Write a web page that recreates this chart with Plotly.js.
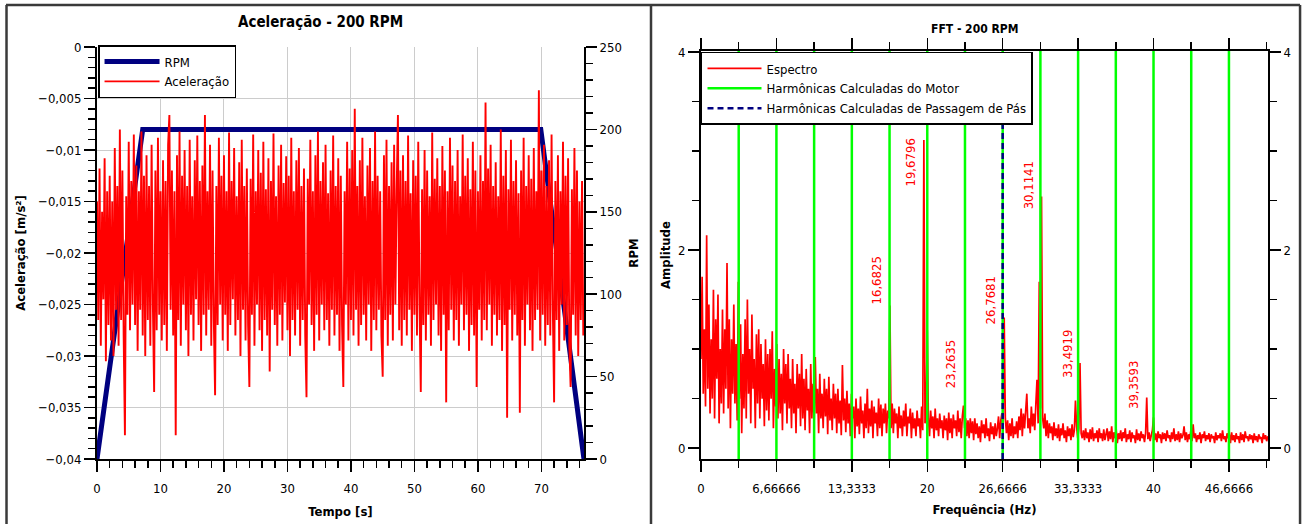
<!DOCTYPE html>
<html><head><meta charset="utf-8">
<script src="https://cdn.plot.ly/plotly-3.0.1.min.js"></script>
<style>html,body{margin:0;padding:0;background:#fff}#chart{width:1302px;height:524px}</style>
</head><body><div id="chart"></div>
<script>
// ---------- Left chart: acceleration (m/s²) sampled every 0.2 s ----------
const timeStep = 0.2;
const accel = [
-0.0150,-0.0265,-0.0118,-0.0290,-0.0160,-0.0245,-0.0108,-0.0305,-0.0140,-0.0270,
-0.0125,-0.0285,-0.0150,-0.0300,-0.0098,-0.0255,-0.0135,-0.0290,-0.0080,-0.0265,
-0.0120,-0.0280,-0.0377,-0.0145,-0.0260,-0.0092,-0.0275,-0.0130,-0.0250,-0.0085,
-0.0270,-0.0115,-0.0295,-0.0140,-0.0255,-0.0082,-0.0280,-0.0125,-0.0300,-0.0105,
-0.0265,-0.0135,-0.0290,-0.0095,-0.0250,-0.0335,-0.0120,-0.0275,-0.0088,-0.0260,
-0.0140,-0.0285,-0.0110,-0.0270,-0.0130,-0.0295,-0.0095,-0.0066,-0.0255,-0.0120,
-0.0280,-0.0140,-0.0377,-0.0105,-0.0265,-0.0082,-0.0290,-0.0125,-0.0250,-0.0100,
-0.0275,-0.0135,-0.0300,-0.0090,-0.0260,-0.0145,-0.0285,-0.0110,-0.0245,-0.0086,
-0.0270,-0.0130,-0.0295,-0.0115,-0.0260,-0.0066,-0.0280,-0.0140,-0.0255,-0.0095,
-0.0290,-0.0120,-0.0265,-0.0338,-0.0135,-0.0270,-0.0088,-0.0250,-0.0125,-0.0285,
-0.0105,-0.0260,-0.0140,-0.0295,-0.0083,-0.0270,-0.0130,-0.0245,-0.0098,-0.0280,
-0.0145,-0.0265,-0.0112,-0.0300,-0.0090,-0.0255,-0.0135,-0.0285,-0.0118,-0.0270,
-0.0330,-0.0128,-0.0260,-0.0085,-0.0290,-0.0140,-0.0250,-0.0100,-0.0275,-0.0122,
-0.0295,-0.0092,-0.0265,-0.0138,-0.0280,-0.0108,-0.0315,-0.0130,-0.0255,-0.0084,
-0.0270,-0.0145,-0.0290,-0.0115,-0.0260,-0.0095,-0.0285,-0.0132,-0.0248,-0.0106,
-0.0275,-0.0125,-0.0300,-0.0088,-0.0265,-0.0140,-0.0280,-0.0110,-0.0255,-0.0098,
-0.0290,-0.0135,-0.0265,-0.0118,-0.0280,-0.0340,-0.0128,-0.0250,-0.0090,-0.0270,
-0.0140,-0.0295,-0.0105,-0.0260,-0.0082,-0.0285,-0.0130,-0.0250,-0.0112,-0.0275,
-0.0095,-0.0265,-0.0142,-0.0290,-0.0120,-0.0255,-0.0086,-0.0280,-0.0135,-0.0260,
-0.0108,-0.0295,-0.0125,-0.0270,-0.0330,-0.0140,-0.0250,-0.0092,-0.0285,-0.0118,
-0.0265,-0.0100,-0.0280,-0.0060,-0.0255,-0.0135,-0.0290,-0.0110,-0.0270,-0.0088,
-0.0260,-0.0145,-0.0285,-0.0115,-0.0250,-0.0098,-0.0295,-0.0130,-0.0265,-0.0082,
-0.0275,-0.0125,-0.0255,-0.0140,-0.0280,-0.0320,-0.0105,-0.0265,-0.0090,-0.0290,
-0.0135,-0.0260,-0.0112,-0.0285,-0.0095,-0.0250,-0.0140,-0.0066,-0.0275,-0.0120,
-0.0290,-0.0105,-0.0265,-0.0130,-0.0280,-0.0086,-0.0255,-0.0142,-0.0295,-0.0110,
-0.0260,-0.0125,-0.0280,-0.0092,-0.0250,-0.0335,-0.0138,-0.0270,-0.0100,-0.0285,
-0.0120,-0.0260,-0.0145,-0.0290,-0.0083,-0.0265,-0.0128,-0.0250,-0.0108,-0.0280,
-0.0135,-0.0295,-0.0096,-0.0260,-0.0120,-0.0345,-0.0140,-0.0275,-0.0088,-0.0255,
-0.0115,-0.0285,-0.0130,-0.0265,-0.0100,-0.0290,-0.0145,-0.0250,-0.0085,-0.0275,
-0.0125,-0.0260,-0.0108,-0.0295,-0.0138,-0.0270,-0.0092,-0.0280,-0.0120,-0.0330,
-0.0140,-0.0255,-0.0105,-0.0285,-0.0130,-0.0265,-0.0054,-0.0275,-0.0118,-0.0250,
-0.0095,-0.0290,-0.0135,-0.0260,-0.0112,-0.0280,-0.0145,-0.0265,-0.0080,-0.0295,
-0.0125,-0.0270,-0.0100,-0.0360,-0.0138,-0.0255,-0.0090,-0.0285,-0.0130,-0.0260,
-0.0110,-0.0280,-0.0142,-0.0355,-0.0120,-0.0265,-0.0088,-0.0290,-0.0135,-0.0250,
-0.0105,-0.0275,-0.0128,-0.0295,-0.0098,-0.0265,-0.0140,-0.0255,-0.0042,-0.0285,
-0.0120,-0.0260,-0.0095,-0.0290,-0.0135,-0.0270,-0.0110,-0.0280,-0.0085,-0.0255,
-0.0345,-0.0130,-0.0265,-0.0105,-0.0295,-0.0140,-0.0250,-0.0092,-0.0285,-0.0125,
-0.0270,-0.0108,-0.0290,-0.0330,-0.0138,-0.0260,-0.0098,-0.0280,-0.0120,-0.0300,
-0.0150,-0.0265,-0.0130,-0.0280
];
const rpmTime = [0, 7.2, 69.9, 76.7];
const rpmValues = [0, 200, 200, 0];

// ---------- Right chart: FFT amplitude sampled every 0.1 Hz ----------
const freqStep = 0.1;
const spectrum = [
0.9,1.73,0.55,1.2,0.42,2.15,0.6,1.45,0.35,1.1,
0.5,1.6,0.3,1.3,0.7,1.55,0.25,1.0,0.45,1.4,
0.35,1.2,0.6,1.87,0.4,1.3,0.2,1.1,0.55,1.45,
0.45,1.05,0.28,1.68,0.5,1.25,0.15,0.95,0.4,1.3,
0.3,1.5,0.55,1.0,0.25,1.35,0.6,0.9,0.2,1.15,
0.45,1.2,0.3,1.05,0.5,0.85,0.22,1.1,0.38,0.95,
0.28,1.0,0.5,1.18,0.2,0.8,0.42,1.05,0.3,0.9,
0.35,0.75,0.18,1.0,0.45,0.85,0.25,0.95,0.4,0.7,
0.2,0.9,0.35,0.65,0.15,0.85,0.4,0.75,0.22,0.95,
0.3,0.7,0.18,0.8,0.38,0.6,0.15,0.85,0.3,0.65,
0.25,0.92,0.35,0.6,0.15,0.75,0.3,0.55,0.2,0.7,
0.32,0.6,0.14,0.72,0.28,0.5,0.18,0.65,0.3,0.55,
0.15,0.6,0.25,0.48,0.13,0.84,0.28,0.5,0.16,0.58,
0.25,0.45,0.12,0.55,0.3,0.42,0.1,0.5,0.22,0.4,
0.14,0.52,0.25,0.38,0.1,0.45,0.2,0.6,0.15,0.4,
0.22,0.48,0.1,0.42,0.25,0.36,0.12,0.5,0.2,0.44,
0.12,0.4,0.25,0.45,0.15,0.38,0.3,1.44,0.2,0.45,
0.15,0.4,0.25,0.35,0.1,0.42,0.2,0.33,0.12,0.38,
0.22,0.45,0.12,0.32,0.25,0.4,0.1,0.36,0.2,0.3,
0.12,0.38,0.22,0.3,0.1,0.42,0.18,3.11,0.25,0.35,
1.19,0.3,0.12,0.38,0.2,0.32,0.1,0.4,0.18,0.3,
0.12,0.35,0.2,0.28,0.1,0.33,0.18,0.3,0.08,0.36,
0.15,0.3,0.1,0.34,0.2,0.28,0.12,0.38,0.16,0.3,
0.1,0.32,0.43,0.2,0.3,0.12,0.28,0.1,0.3,0.15,
0.27,0.08,0.3,0.14,0.25,0.1,0.22,0.06,0.28,0.15,
0.24,0.1,0.3,0.12,0.2,0.07,0.26,0.14,0.22,0.09,
0.25,0.12,0.2,0.32,0.1,0.28,0.35,0.15,1.32,0.3,
0.15,0.28,0.08,0.25,0.12,0.3,0.1,0.22,0.14,0.27,
0.1,0.32,0.18,0.4,0.12,0.35,0.2,0.38,0.55,0.2,
0.3,0.15,0.42,0.22,0.35,0.18,0.45,0.69,0.25,1.68,
0.4,2.54,0.3,0.2,0.35,0.12,0.28,0.1,0.25,0.15,
0.22,0.08,0.26,0.12,0.2,0.1,0.24,0.07,0.2,0.13,
0.25,0.1,0.18,0.06,0.22,0.12,0.2,0.08,0.24,0.11,
0.18,0.48,0.22,0.1,0.2,0.86,0.15,0.1,0.18,0.08,
0.2,0.1,0.16,0.06,0.19,0.09,0.21,0.07,0.15,0.1,
0.18,0.06,0.2,0.1,0.15,0.07,0.19,0.08,0.14,0.2,
0.07,0.17,0.09,0.22,0.06,0.16,0.1,0.19,0.05,0.15,
0.09,0.18,0.07,0.16,0.1,0.2,0.06,0.14,0.09,0.18,
0.06,0.16,0.1,0.13,0.05,0.19,0.08,0.15,0.07,0.17,
0.1,0.14,0.06,0.15,0.51,0.09,0.16,0.07,0.13,0.18,
0.31,0.08,0.15,0.06,0.17,0.1,0.14,0.05,0.16,0.09,
0.15,0.07,0.18,0.1,0.13,0.06,0.16,0.09,0.2,0.07,
0.14,0.08,0.17,0.06,0.15,0.1,0.13,0.22,0.08,0.16,
0.06,0.14,0.09,0.18,0.07,0.24,0.1,0.15,0.06,0.13,
0.09,0.16,0.05,0.14,0.1,0.17,0.07,0.13,0.09,0.15,
0.06,0.14,0.1,0.12,0.05,0.16,0.08,0.13,0.1,0.15,
0.07,0.18,0.09,0.12,0.06,0.15,0.1,0.14,0.05,0.16,
0.08,0.13,0.06,0.15,0.09,0.12,0.05,0.16,0.08,0.14,
0.06,0.17,0.1,0.12,0.07,0.14,0.09,0.13,0.05,0.15,
0.08,0.12,0.06,0.14,0.1,0.11,0.05,0.15,0.09,0.13,
0.07,0.12
];
const motorHarmonics = [3.3333, 6.6667, 10, 13.3333, 16.6667, 20, 23.3333, 26.6667, 30, 33.3333, 36.6667, 40, 43.3333, 46.6667];
const bladeHarmonics = [26.6667];
const peakFreqs  = [16.6825, 19.6796, 23.2635, 26.7681, 30.1141, 33.4919, 39.3593];
const peakLabels = ['16,6825', '19,6796', '23,2635', '26,7681', '30,1141', '33,4919', '39,3593'];
const peakLabelAmps = [1.69, 2.88, 0.85, 1.49, 2.65, 0.95, 0.64];
const freqTickVals = [0, 6.66666, 13.3333, 20, 26.6666, 33.3333, 40, 46.6666];
const freqTickText = ['0', '6,66666', '13,3333', '20', '26,6666', '33,3333', '40', '46,6666'];

// ---------- figure ----------
const FONT = '"DejaVu Sans Condensed", "DejaVu Sans", sans-serif';
const ampRange = [-0.11, 4.01];

function vlines(xs, y0, y1) {
  const x = [], y = [];
  xs.forEach(v => { x.push(v, v, null); y.push(y0, y1, null); });
  return {x, y};
}
const motorL = vlines(motorHarmonics, ampRange[0], ampRange[1]);
const bladeL = vlines(bladeHarmonics, ampRange[0], ampRange[1]);

const traces = [
  {type:'scatter', mode:'lines', name:'RPM', x:rpmTime, y:rpmValues, xaxis:'x', yaxis:'y',
   line:{color:'#000080', width:5}, legend:'legend'},
  {type:'scatter', mode:'lines', name:'Aceleração', x0:0, dx:timeStep, y:accel, xaxis:'x', yaxis:'y2',
   line:{color:'#ff0000', width:1.9, simplify:false}, legend:'legend'},
  {type:'scatter', mode:'lines', name:'Espectro', x0:0, dx:freqStep, y:spectrum, xaxis:'x3', yaxis:'y3',
   line:{color:'#ff0000', width:1.7, simplify:false}, legend:'legend2'},
  {type:'scatter', mode:'lines', name:'Harmônicas Calculadas do Motor', x:motorL.x, y:motorL.y, xaxis:'x3', yaxis:'y3',
   line:{color:'#00ff00', width:2.5}, legend:'legend2'},
  {type:'scatter', mode:'lines', name:'Harmônicas Calculadas de Passagem de Pás', x:bladeL.x, y:bladeL.y, xaxis:'x3', yaxis:'y4',
   line:{color:'#000080', width:2.5, dash:'6px,4px'}, legend:'legend2'}
];

const axBase = {showline:true, linecolor:'#000', linewidth:2, ticks:'outside', ticklen:11, tickwidth:1.5,
  tickcolor:'#000', tickfont:{family:FONT, size:13, color:'#000'}, zeroline:false, automargin:false,
  fixedrange:true};
const minorBase = {ticks:'outside', ticklen:7, tickwidth:1.5, tickcolor:'#000', showgrid:false};
const titleFont = {family:FONT, size:13, color:'#000'};

const annotations = [
  {text:'<b>Aceleração - 200 RPM</b>', xref:'paper', yref:'paper', x:0.2458, y:0.958,
   xanchor:'center', yanchor:'middle', showarrow:false, font:{family:FONT, size:15, color:'#000'}},
  {text:'<b>FFT - 200 RPM</b>', xref:'paper', yref:'paper', x:0.7488, y:0.9447,
   xanchor:'center', yanchor:'middle', showarrow:false, font:{family:FONT, size:12, color:'#000'}}
];
peakFreqs.forEach((f, i) => {
  annotations.push({text:peakLabels[i], xref:'x3', yref:'y3', x:f, y:peakLabelAmps[i], textangle:-90,
    xanchor:'center', yanchor:'middle', xshift:-13, showarrow:false,
    font:{family:FONT, size:13, color:'#ff0000'}});
});

const border = {type:'line', xref:'paper', yref:'paper', line:{color:'#3a3a3a', width:2.5}};
const shapes = [
  {...border, x0:0.0046, x1:0.9985, y0:0.9905, y1:0.9905},
  {...border, x0:0.0050, x1:0.0050, y0:-0.01, y1:0.9905},
  {...border, x0:0.5000, x1:0.5000, y0:-0.01, y1:0.9905},
  {...border, x0:0.9985, x1:0.9985, y0:-0.01, y1:0.9905}
];

const layout = {
  width:1302, height:524, margin:{l:0, r:0, t:0, b:0},
  paper_bgcolor:'#fff', plot_bgcolor:'#fff', separators:',.',
  font:{family:FONT, size:13, color:'#000'},
  showlegend:true,
  xaxis:{...axBase, domain:[0.0745, 0.4485], anchor:'y', range:[0, 76.7], tick0:0, dtick:10,
    showgrid:true, gridcolor:'#cccccc', gridwidth:1, ticklabelstandoff:5,
    minor:{...minorBase, dtick:2},
    title:{text:'<b>Tempo [s]</b>', font:titleFont, standoff:12}},
  yaxis:{...axBase, domain:[0.124, 0.9103], anchor:'x', side:'right', range:[0, 250], tick0:0, dtick:50,
    showgrid:false, minor:{...minorBase, dtick:10},
    title:{text:'<b>RPM</b>', font:titleFont, standoff:8}},
  yaxis2:{...axBase, overlaying:'y', anchor:'x', side:'left', range:[-0.04, 0], tick0:0, dtick:0.005,
    showgrid:true, gridcolor:'#cccccc', gridwidth:1, minor:{...minorBase, dtick:0.001},
    title:{text:'<b>Aceleração [m/s²]</b>', font:titleFont, standoff:10}},
  xaxis3:{...axBase, domain:[0.5384, 0.9739], anchor:'y3', range:[0, 50.12], tickmode:'array',
    tickvals:freqTickVals, ticktext:freqTickText, mirror:'ticks', showgrid:false, ticklabelstandoff:5,
    minor:{...minorBase, tickmode:'linear', tick0:0, dtick:10/3},
    title:{text:'<b>Frequência (Hz)</b>', font:titleFont, standoff:10}},
  yaxis3:{...axBase, domain:[0.124, 0.9027], anchor:'x3', side:'left', range:ampRange, tick0:0, dtick:2,
    showgrid:false, minor:{...minorBase, dtick:0.5},
    title:{text:'<b>Amplitude</b>', font:titleFont, standoff:4}},
  yaxis4:{...axBase, overlaying:'y3', anchor:'x3', side:'right', range:ampRange, tick0:0, dtick:2,
    showgrid:false, minor:{...minorBase, dtick:0.5}},
  legend:{x:0.0753, y:0.914, xanchor:'left', yanchor:'top', bgcolor:'#fff', bordercolor:'#000', borderwidth:1.5,
    font:{family:FONT, size:13, color:'#000'}, itemwidth:55, tracegroupgap:0},
  legend2:{x:0.5384, y:0.9008, xanchor:'left', yanchor:'top', bgcolor:'#fff', bordercolor:'#000', borderwidth:1.5,
    font:{family:FONT, size:13, color:'#000'}, itemwidth:54, tracegroupgap:0},
  annotations, shapes
};

Plotly.newPlot('chart', traces, layout, {displayModeBar:false, staticPlot:true});
</script>
</body></html>
